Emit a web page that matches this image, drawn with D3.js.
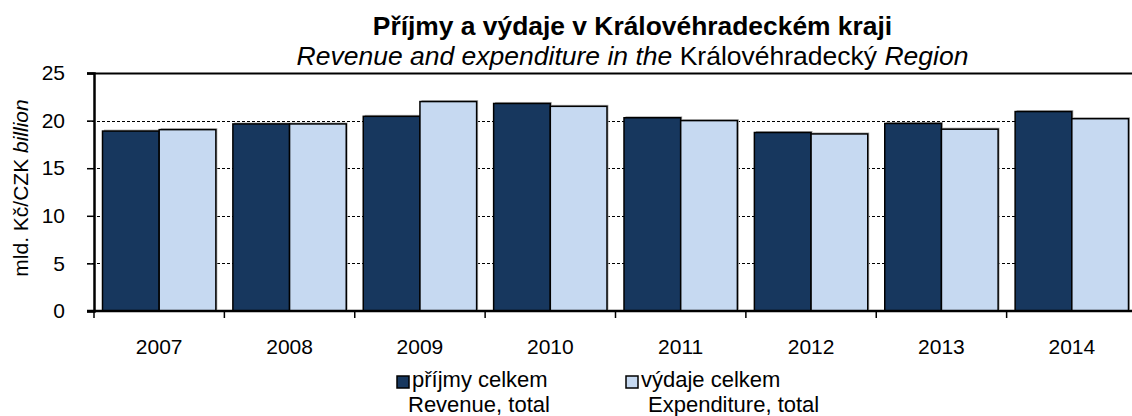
<!DOCTYPE html>
<html>
<head>
<meta charset="utf-8">
<script src="https://cdn.jsdelivr.net/npm/d3@7"></script>
<style>
  body { margin: 0; background: #fff; }
  svg { display: block; font-family: "Liberation Sans", Arial, sans-serif; }
</style>
</head>
<body>
<div id="chart"></div>
<script>
// Data (mld. Kč / CZK billion)
const years = ["2007", "2008", "2009", "2010", "2011", "2012", "2013", "2014"];
const revenue = [18.9, 19.65, 20.45, 21.8, 20.3, 18.75, 19.7, 20.95];
const expenditure = [19.05, 19.65, 22.0, 21.5, 20.0, 18.6, 19.1, 20.2];
const yTicks = [0, 5, 10, 15, 20, 25];

const seriesNames = [
    {cz: "příjmy celkem", en: "Revenue, total"},
    {cz: "výdaje celkem", en: "Expenditure, total"}
];
const seriesColors = ["#17375E", "#C6D9F1"];

const width = 1132, height = 416;
const plot = {left: 94, right: 1137, top: 73, bottom: 311};

const svg = d3.select("#chart").append("svg")
    .attr("width", width)
    .attr("height", height);

const x = d3.scaleBand()
    .domain(years)
    .range([plot.left, plot.right])
    .paddingInner(0)
    .paddingOuter(0);

const xInner = d3.scaleBand()
    .domain([0, 1])
    .range([0, x.bandwidth()])
    .paddingOuter(0.15)
    .paddingInner(0);

const y = d3.scaleLinear()
    .domain([0, 25])
    .range([plot.bottom, plot.top]);

// Gridlines (dashed), top one solid
svg.append("g")
    .selectAll("line")
    .data(yTicks.filter(d => d > 0))
    .join("line")
    .attr("x1", plot.left - 7)
    .attr("x2", plot.right)
    .attr("y1", d => Math.round(y(d)) + 0.5)
    .attr("y2", d => Math.round(y(d)) + 0.5)
    .attr("stroke", "#000")
    .attr("stroke-width", d => d === 25 ? 2 : 1)
    .attr("stroke-dasharray", d => d === 25 ? null : "3,2");

// Bars
const data = years.map((yr, i) => ({year: yr, values: [revenue[i], expenditure[i]]}));

const groups = svg.append("g")
    .selectAll("g")
    .data(data)
    .join("g")
    .attr("transform", d => `translate(${x(d.year)},0)`);

// soft shadow behind bars
groups.selectAll("rect.shadow")
    .data(d => d.values.map((v, k) => ({v, k})))
    .join("rect")
    .attr("class", "shadow")
    .attr("x", d => xInner(d.k) + 1.5)
    .attr("y", d => y(d.v) - 1.5)
    .attr("width", xInner.bandwidth())
    .attr("height", d => plot.bottom - y(d.v))
    .attr("fill", "#b0b0b0");

groups.selectAll("rect.bar")
    .data(d => d.values.map((v, k) => ({v, k})))
    .join("rect")
    .attr("class", "bar")
    .attr("x", d => xInner(d.k))
    .attr("y", d => y(d.v))
    .attr("width", xInner.bandwidth())
    .attr("height", d => plot.bottom - y(d.v))
    .attr("fill", d => seriesColors[d.k])
    .attr("stroke", "#000")
    .attr("stroke-width", 1.5);

// Y axis
const yAxis = svg.append("g")
    .attr("transform", `translate(${plot.left},0)`)
    .call(d3.axisLeft(y).tickValues(yTicks).tickSize(7).tickPadding(22));
yAxis.select(".domain").attr("stroke-width", 2.5);
yAxis.selectAll(".tick line").attr("stroke-width", 1.5);
yAxis.selectAll("text")
    .attr("font-size", 21)
    .attr("fill", "#000")
    .attr("font-family", "Liberation Sans, Arial, sans-serif");

// X axis with ticks at category boundaries
const xAxis = svg.append("g")
    .attr("transform", `translate(0,${plot.bottom})`);
xAxis.append("line")
    .attr("x1", plot.left - 7)
    .attr("x2", plot.right)
    .attr("stroke", "#000")
    .attr("stroke-width", 2.5);
xAxis.selectAll("line.tk")
    .data(years)
    .join("line")
    .attr("class", "tk")
    .attr("x1", d => x(d))
    .attr("x2", d => x(d))
    .attr("y1", 0)
    .attr("y2", 7)
    .attr("stroke", "#000")
    .attr("stroke-width", 1.5);
xAxis.selectAll("text")
    .data(years)
    .join("text")
    .attr("x", d => x(d) + x.bandwidth() / 2)
    .attr("y", 43)
    .attr("text-anchor", "middle")
    .attr("font-size", 21)
    .text(d => d);

// Y axis label
const yLabel = svg.append("text")
    .attr("transform", "translate(28,188) rotate(-90)")
    .attr("text-anchor", "middle")
    .attr("font-size", 21);
yLabel.append("tspan").text("mld. Kč/CZK ");
yLabel.append("tspan").attr("font-style", "italic").text("billion");

// Title
svg.append("text")
    .attr("x", 632.5)
    .attr("y", 35)
    .attr("text-anchor", "middle")
    .attr("font-size", 26.4)
    .attr("font-weight", "bold")
    .text("Příjmy a výdaje v Královéhradeckém kraji");

const sub = svg.append("text")
    .attr("x", 632.5)
    .attr("y", 65)
    .attr("text-anchor", "middle")
    .attr("font-size", 26.5);
sub.append("tspan").attr("font-style", "italic").text("Revenue and expenditure in the ");
sub.append("tspan").text("Královéhradecký");
sub.append("tspan").attr("font-style", "italic").text(" Region");

// Legend
const legendX = [397, 626];
seriesNames.forEach((s, i) => {
    const g = svg.append("g").attr("transform", `translate(${legendX[i]},376)`);
    g.append("rect")
        .attr("width", 12)
        .attr("height", 12)
        .attr("fill", seriesColors[i])
        .attr("stroke", "#000")
        .attr("stroke-width", 1.5);
    const t = g.append("text").attr("font-size", 22);
    t.append("tspan").attr("x", 15).attr("y", 11).text(s.cz);
    t.append("tspan").attr("x", 11 + i * 11).attr("y", 36).text(s.en);
});
</script>
</body>
</html>
